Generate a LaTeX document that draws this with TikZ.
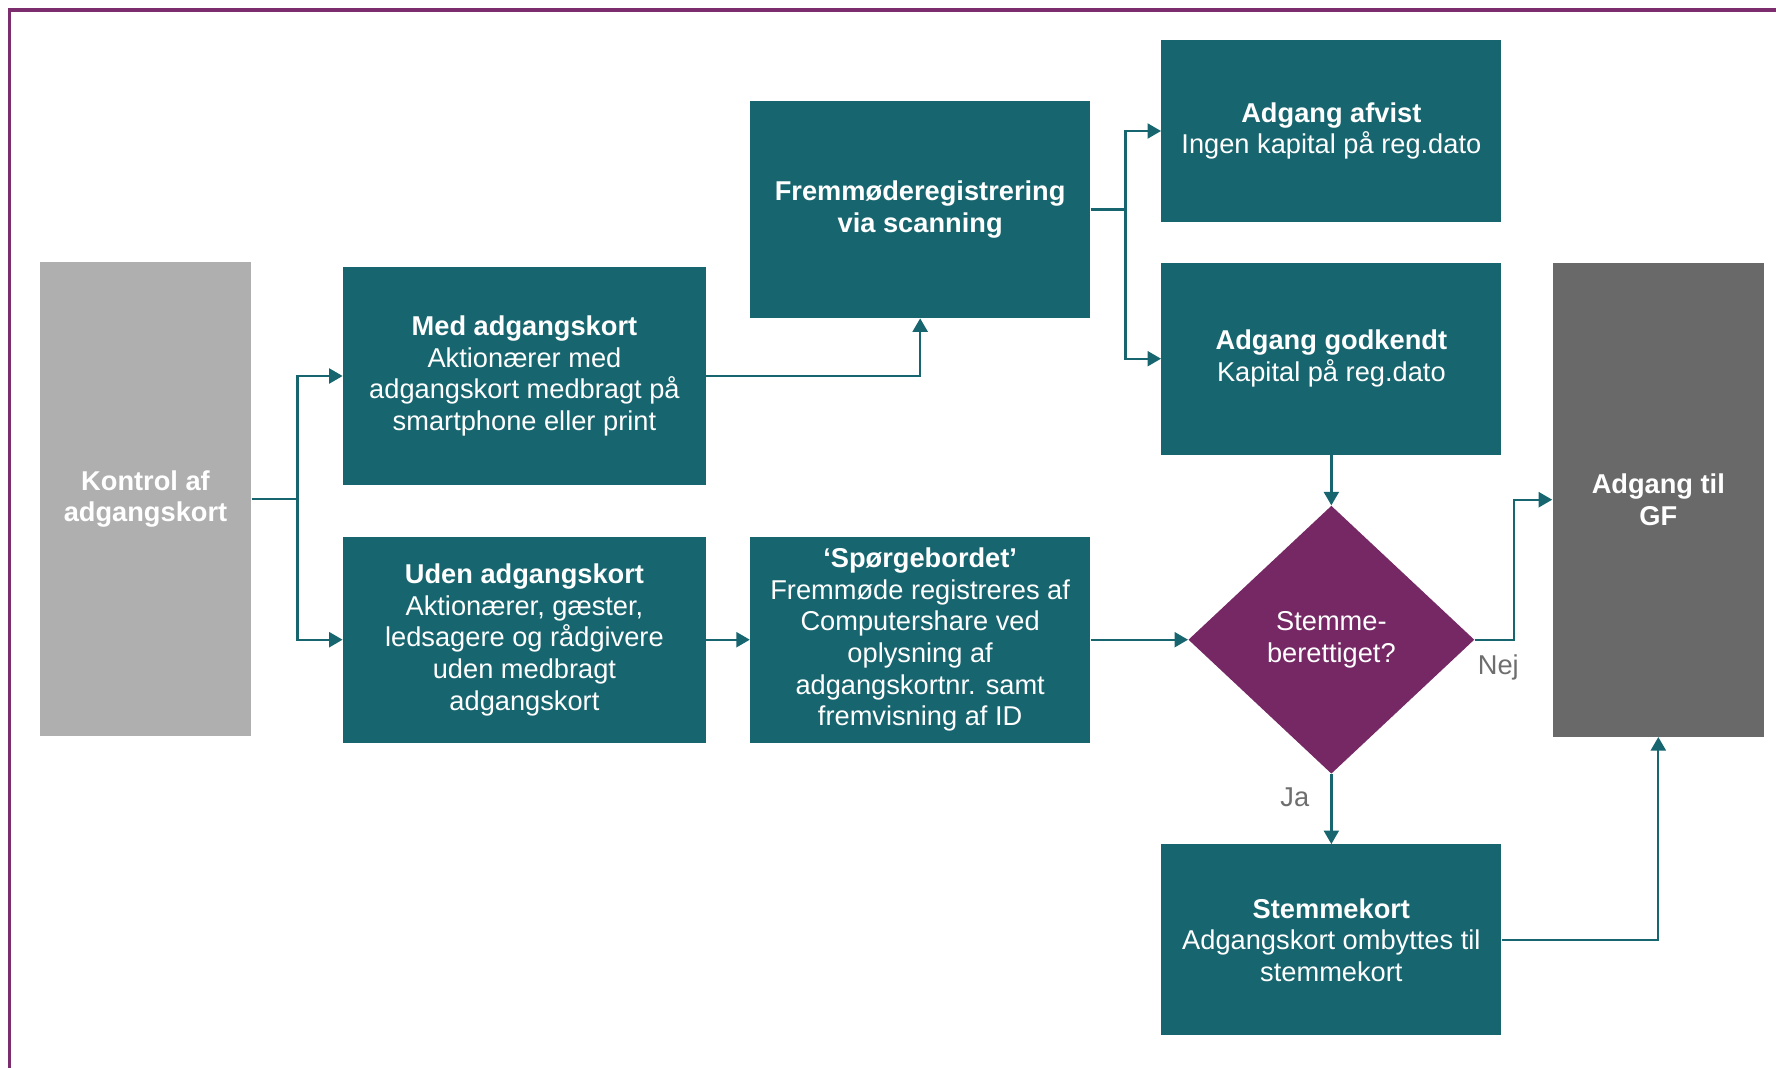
\documentclass[tikz,border=0pt]{standalone}
\usepackage{fontspec}
\setmainfont{Liberation Sans}
\usepackage{tikz}
\usetikzlibrary{calc, positioning, shapes.geometric, arrows.meta}
\definecolor{petrol}{HTML}{17656E}
\definecolor{lysgraa}{HTML}{AFAFAF}
\definecolor{moerkgraa}{HTML}{696969}
\definecolor{lilla}{HTML}{762865}
\definecolor{etiketgraa}{HTML}{6E6E6E}
\definecolor{rammelilla}{HTML}{7B2D6E}
\tikzset{  
    boks/.style = {rectangle, fill=petrol, text=white, align=center, inner sep=0pt, minimum width=6.8cm, font=\fontsize{15.5}{18}\selectfont}, % the teal process boxes
    sideboks/.style = {rectangle, text=white, align=center, inner sep=0pt, minimum width=4.23cm, minimum height=9.48cm, font=\fontsize{15.5}{18}\selectfont\bfseries},
    beslutning/.style = {diamond, fill=lilla, text=white, align=center, inner sep=0pt, minimum width=5.72cm, minimum height=5.36cm, font=\fontsize{15.5}{18}\selectfont},
    pil/.style = {draw=petrol, line width=1.3pt, -{Triangle[length=0.27cm, width=0.3cm]}},
    etiket/.style = {text=etiketgraa, inner sep=0pt, font=\fontsize{15.5}{18}\selectfont}
}

\begin{document}
\begin{tikzpicture}
        
        \useasboundingbox (0,0) rectangle (35.52,-21.36);
        
        %frame
        
        \draw[rammelilla, line width=1.8pt] (0.19,-21.36) |- (35.52,-0.2);
        
        %nodes
        
        \node(kontrol)[sideboks, fill=lysgraa] at (2.91,-9.98) {Kontrol af\\adgangskort};
        \node(med)[boks, minimum width=7.26cm, minimum height=4.36cm, anchor=north west] at ($(kontrol.north east) + (1.82,-0.1)$) {\textbf{Med adgangskort}\\Aktionærer med\\adgangskort medbragt på\\smartphone eller print};
        \node(uden)[boks, minimum width=7.26cm, minimum height=4.12cm, anchor=north] at ($(med.south) + (0,-1.02)$) {\textbf{Uden adgangskort}\\Aktionærer, gæster,\\ledsagere og rådgivere\\uden medbragt\\adgangskort};
        \node(spoerge)[boks, minimum height=4.12cm, anchor=west] at ($(uden.east) + (0.87,0)$) {\textbf{‘Spørgebordet’}\\Fremmøde registreres af\\Computershare ved\\oplysning af\\adgangskortnr. samt\\fremvisning af ID};
        \node(frem)[boks, minimum height=4.34cm, anchor=south] at ($(spoerge.north) + (0,4.36)$) {\textbf{Fremmøderegistrering}\\\textbf{via scanning}};
        \node(afvist)[boks, minimum height=3.64cm, anchor=north west] at ($(frem.north east) + (1.41,1.22)$) {\textbf{Adgang afvist}\\Ingen kapital på reg.dato};
        \node(godkendt)[boks, minimum height=3.84cm, anchor=north] at ($(afvist.south) + (0,-0.80)$) {\textbf{Adgang godkendt}\\Kapital på reg.dato};
        \node(stemme)[beslutning] at (spoerge-|godkendt) {Stemme-\\berettiget?};
        \node(stemmekort)[boks, minimum height=3.82cm, anchor=north] at ($(stemme.south) + (0,-1.40)$) {\textbf{Stemmekort}\\Adgangskort ombyttes til\\stemmekort};
        \node(gf)[sideboks, fill=moerkgraa, anchor=north west] at ($(godkendt.north east) + (1.01,0)$) {Adgang til\\GF};
        
        %arrows
        
        \draw[pil] (kontrol.east) -- ++(0.92,0) |- (med);
        \draw[pil] (kontrol.east) -- ++(0.92,0) |- (uden);
        \draw[pil] (med.east) -| (frem);
        \draw[pil] (uden) -- (spoerge);
        \draw[pil] (frem.east) -- ++(0.7,0) |- (afvist);
        \draw[pil] (frem.east) -- ++(0.7,0) |- (godkendt);
        \draw[pil] (godkendt) -- (stemme);
        \draw[pil] (spoerge) -- (stemme);
        \draw[pil] (stemme.east) node[etiket, anchor=north west] at ($(stemme.east) + (0.04,-0.28)$) {Nej} -- ++(0.78,0) |- (gf);
        \draw[pil] (stemme) -- node[etiket, left=0.42cm, pos=0.33] {Ja} (stemmekort);
        \draw[pil] (stemmekort.east) -| (gf);
    \end{tikzpicture}
\end{document}
